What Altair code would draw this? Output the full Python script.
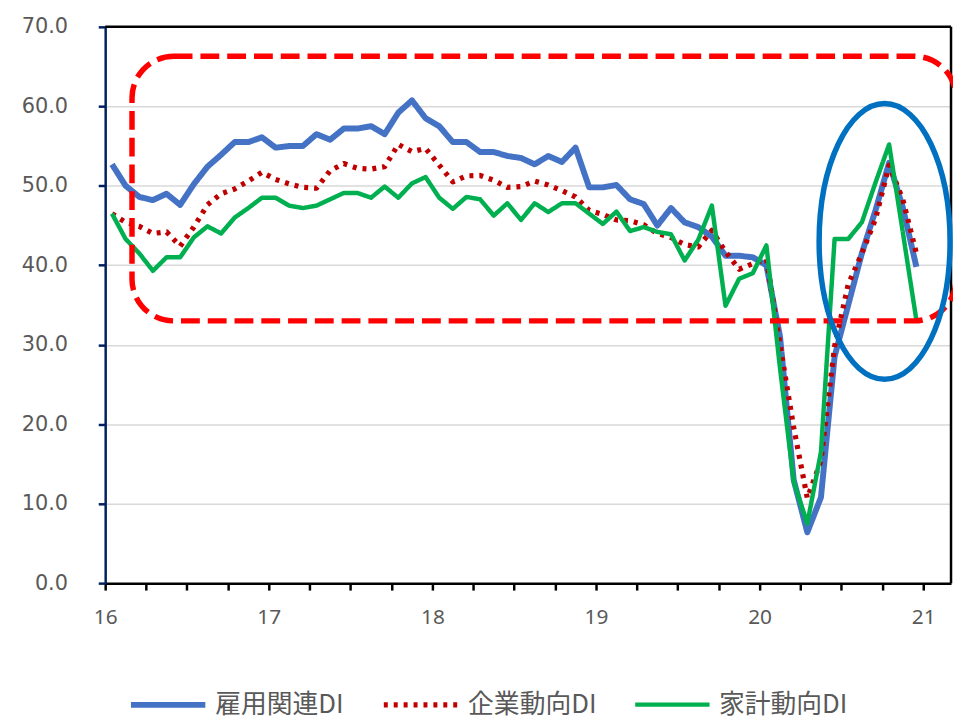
import altair as alt
import pandas as pd

# ---- data (monthly, Jan 2016 .. Dec 2020) ----
years = [2016, 2017, 2018, 2019, 2020]
series_names = ["雇用関連DI", "企業動向DI", "家計動向DI"]

employment = [
    52.7, 50.0, 48.6, 48.2, 49.0, 47.6, 50.2, 52.4, 53.9, 55.5, 55.5, 56.1,
    54.8, 55.0, 55.0, 56.5, 55.8, 57.2, 57.2, 57.5, 56.5, 59.2, 60.75, 58.5,
    57.5, 55.5, 55.5, 54.25, 54.25, 53.75, 53.5, 52.7, 53.75, 53.0, 54.8, 49.8,
    49.8, 50.1, 48.3, 47.7, 45.0, 47.2, 45.4, 44.8, 43.6, 41.2, 41.2, 41.0,
    40.0, 31.0, 13.0, 6.4, 10.8, 28.5, 35.0, 41.5, 46.9, 52.9, 47.3, 39.8,
]
corporate = [
    46.5, 45.4, 44.9, 44.0, 44.2, 42.4, 44.8, 47.6, 49.0, 49.6, 50.6, 51.7,
    50.8, 50.25, 49.8, 49.7, 51.9, 52.8, 52.2, 52.1, 52.4, 55.2, 54.3, 54.7,
    52.6, 50.5, 51.25, 51.3, 50.7, 49.8, 49.9, 50.6, 50.1, 49.4, 48.6, 46.9,
    46.4, 45.7, 45.6, 45.1, 44.0, 43.5, 42.6, 42.3, 44.4, 41.7, 39.5, 40.2,
    40.8, 30.0, 19.6, 10.7, 15.4, 29.8, 37.6, 41.5, 45.8, 52.6, 48.3, 41.5,
]
household = [
    46.5, 43.3, 41.5, 39.3, 41.0, 41.0, 43.5, 44.9, 44.0, 46.0, 47.2, 48.5,
    48.5, 47.5, 47.2, 47.5, 48.3, 49.1, 49.1, 48.5, 49.9, 48.5, 50.3, 51.1,
    48.5, 47.1, 48.6, 48.3, 46.25, 47.8, 45.7, 47.8, 46.7, 47.8, 47.8, 46.5,
    45.2, 46.75, 44.3, 44.8, 44.2, 43.9, 40.6, 43.2, 47.5, 34.9, 38.3, 39.0,
    42.5, 27.0, 12.8, 7.5, 16.5, 43.3, 43.3, 45.4, 50.4, 55.2, 44.2, 33.1,
]

year_labels = [16, 17, 18, 19, 20, 21]
y_ticks = [0, 10, 20, 30, 40, 50, 60, 70]
x_domain = [16, 21.17]
y_domain = [0, 70]

# annotation shapes, in data units
box_x = [16.164, 21.2]
box_y = [66.3, 33.0]
ellipse_center = [20.764, 43.0]

# ---- build table ----
rows = []
for name, vals in zip(series_names, [employment, corporate, household]):
    for k, v in enumerate(vals):
        y = years[k // 12]
        m = k % 12 + 1
        rows.append({"t": (y - 2000) + (m - 0.5) / 12, "v": v, "series": name})
df = pd.DataFrame(rows)

colors = ["#4472C4", "#C00000", "#00B050"]
dashes = [[1, 0], [4, 6], [1, 0]]
widths = [6, 4.5, 4]

quarter_ticks = [yl + q / 4 for yl in year_labels[:-1] for q in range(4)] + [year_labels[-1]]

x_scale = alt.Scale(domain=x_domain, nice=False, zero=False)
y_scale = alt.Scale(domain=y_domain, nice=False)

legend = alt.Legend(
    title=None, orient="none", legendX=23, legendY=643, direction="horizontal",
    symbolType="stroke", symbolSize=5625, labelFont="Noto Sans CJK JP",
    labelFontSize=26, labelColor="#595959", labelOffset=7, columnPadding=29,
)

x_axis = alt.Axis(
    values=quarter_ticks, labelExpr="datum.value % 1 == 0 ? format(datum.value, 'd') : ''",
    grid=False, domainColor="black", domainWidth=2.5, tickColor="black", tickWidth=2.5,
    tickSize=7, labelPadding=17, labelFont="Liberation Sans Narrow, Noto Sans",
    labelFontSize=21, labelColor="#595959", title=None, labelFlush=False,
)
y_axis = alt.Axis(
    values=y_ticks, format=".1f", grid=True, gridColor="#D9D9D9", gridWidth=1.5,
    domainColor="#002060", domainWidth=2.5, tickColor="#002060", tickWidth=2.5,
    tickSize=7, labelPadding=31, labelFont="DejaVu Sans", labelFontSize=21,
    labelColor="#595959", title=None,
)

base = alt.Chart(df).mark_line(strokeJoin="round").encode(
    x=alt.X("t:Q", scale=x_scale, axis=x_axis),
    y=alt.Y("v:Q", scale=y_scale, axis=y_axis),
    color=alt.Color("series:N", scale=alt.Scale(domain=series_names, range=colors), legend=legend),
    strokeDash=alt.StrokeDash("series:N", scale=alt.Scale(domain=series_names, range=dashes), legend=legend),
    strokeWidth=alt.StrokeWidth("series:O", scale=alt.Scale(domain=series_names, range=widths), legend=legend),
)
line_layers = [base.transform_filter(alt.datum.series == name) for name in series_names]

# plot frame (top and right edges)
frame_top_df = pd.DataFrame({"x": [x_domain[0]], "x2": [x_domain[1]], "y": [y_domain[1]]})
frame_right_df = pd.DataFrame({"x": [x_domain[1]], "y": [y_domain[0]], "y2": [y_domain[1]]})
frame_top = alt.Chart(frame_top_df).mark_rule(color="black", strokeWidth=2.5).encode(
    x=alt.X("x:Q", scale=x_scale), x2="x2:Q", y=alt.Y("y:Q", scale=y_scale)
)
frame_right = alt.Chart(frame_right_df).mark_rule(color="black", strokeWidth=2.5).encode(
    x=alt.X("x:Q", scale=x_scale), y=alt.Y("y:Q", scale=y_scale), y2="y2:Q"
)

ann_box = pd.DataFrame({"x": [box_x[0]], "x2": [box_x[1]], "y": [box_y[0]], "y2": [box_y[1]]})
box = alt.Chart(ann_box).mark_rect(
    filled=False, stroke="#FF0000", strokeWidth=5.5, strokeDash=[19, 8], cornerRadius=42
).encode(
    x=alt.X("x:Q", scale=x_scale), x2="x2:Q",
    y=alt.Y("y:Q", scale=y_scale), y2="y2:Q",
)

ellipse_path = ("M0,-1C0.2623,-1,0.475,-0.5523,0.475,0C0.475,0.5523,0.2623,1,0,1"
                "C-0.2623,1,-0.475,0.5523,-0.475,0C-0.475,-0.5523,-0.2623,-1,0,-1Z")
ann_ell = pd.DataFrame({"x": [ellipse_center[0]], "y": [ellipse_center[1]]})
ellipse = alt.Chart(ann_ell).mark_point(
    shape=ellipse_path, size=77284, filled=False, stroke="#0070C0", strokeWidth=5.5, opacity=1
).encode(
    x=alt.X("x:Q", scale=x_scale),
    y=alt.Y("y:Q", scale=y_scale),
)

chart = alt.layer(*line_layers, frame_top, frame_right, box, ellipse).properties(
    width=853, height=561,
    padding={"left": 98, "top": 16, "right": 2, "bottom": 134},
    autosize=alt.AutoSizeParams(type="none"),
    background="white",
).configure_view(strokeWidth=0)

chart.save("out.html", embed_options={"renderer": "svg", "actions": False})
